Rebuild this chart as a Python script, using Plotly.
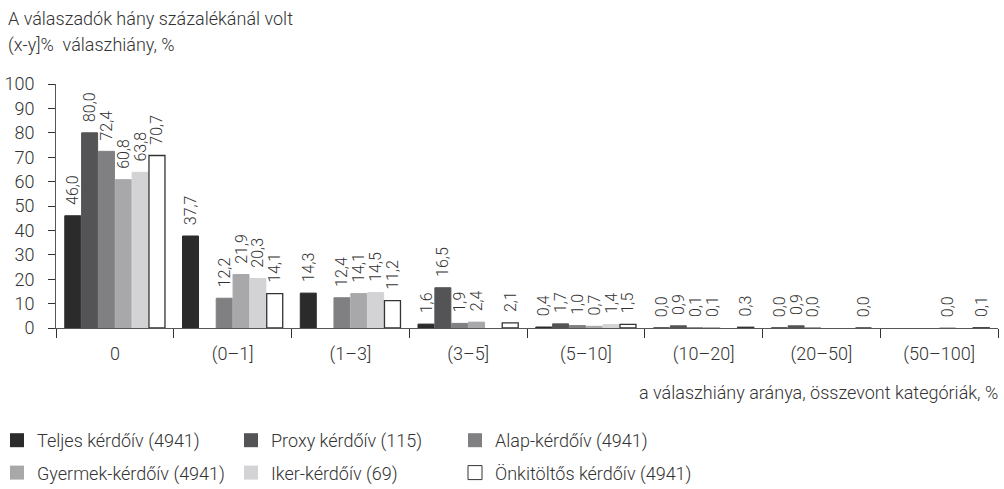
import plotly.graph_objects as go

categories = ["0", "(0–1]", "(1–3]", "(3–5]", "(5–10]", "(10–20]", "(20–50]", "(50–100]"]

series_names = [
    "Teljes kérdőív (4941)",
    "Proxy kérdőív (115)",
    "Alap-kérdőív (4941)",
    "Gyermek-kérdőív (4941)",
    "Iker-kérdőív (69)",
    "Önkitöltős kérdőív (4941)",
]

teljes = [46.0, 37.7, 14.3, 1.6, 0.4, 0.0, 0.0, None]
proxy = [80.0, None, None, 16.5, 1.7, 0.9, 0.9, None]
alap = [72.4, 12.2, 12.4, 1.9, 1.0, 0.1, 0.0, None]
gyermek = [60.8, 21.9, 14.1, 2.4, 0.7, 0.1, None, 0.0]
iker = [63.8, 20.3, 14.5, None, 1.4, None, None, None]
onkitoltos = [70.7, 14.1, 11.2, 2.1, 1.5, 0.3, 0.0, 0.1]

y_ticks = [0, 10, 20, 30, 40, 50, 60, 70, 80, 90, 100]

series_values = [teljes, proxy, alap, gyermek, iker, onkitoltos]
fills = ["#2b2b2b", "#545456", "#808083", "#a8a8ab", "#d3d3d5", "#ffffff"]
edges = ["#2b2b2b", "#545456", "#808083", "#a8a8ab", "#d3d3d5", "#333333"]
edge_w = [1, 1, 1, 1, 1, 1.3]
legend_ids = ["legend", "legend2", "legend3", "legend", "legend2", "legend3"]

FONT = "Roboto, sans-serif"
TXT = "#333333"
WT = 300

fig = go.Figure()
for i, (name, vals) in enumerate(zip(series_names, series_values)):
    fig.add_trace(go.Bar(
        x=categories,
        y=vals,
        name=name,
        showlegend=False,
        marker=dict(color=fills[i], line=dict(color=edges[i], width=edge_w[i])),
        texttemplate="\u00a0\u00a0%{y:.1f}",
        textposition="outside",
        textangle=-90,
        textfont=dict(family=FONT, size=16, color=TXT, weight=WT),
        constraintext="none",
        cliponaxis=False,
        hoverinfo="skip",
    ))

# legend-only entries (larger square swatches)
for i, name in enumerate(series_names):
    fig.add_trace(go.Scatter(
        x=[None], y=[None],
        mode="markers",
        name=name,
        legend=legend_ids[i],
        legendgroup=name,
        marker=dict(symbol="square", size=14, color=fills[i],
                    line=dict(color=edges[i], width=1 if i == 5 else 0)),
        hoverinfo="skip",
    ))

W, H = 1004, 489
ml, mr, mt, mb = 56, 6, 84, 161
pw = W - ml - mr
ph = H - mt - mb

def px_x(X):
    return (X - ml) / pw

def px_y(Y):
    return (H - mb - Y) / ph

leg_common = dict(
    orientation="v",
    xanchor="left",
    yanchor="top",
    font=dict(family=FONT, size=18, color=TXT, weight=WT),
    bgcolor="rgba(0,0,0,0)",
    tracegroupgap=6,
    itemsizing="trace",
    itemclick=False,
    itemdoubleclick=False,
)

fig.update_layout(
    width=W,
    height=H,
    margin=dict(l=ml, r=mr, t=mt, b=mb, autoexpand=False),
    paper_bgcolor="white",
    plot_bgcolor="white",
    separators=", ",
    barmode="group",
    bargap=0.142,
    bargroupgap=0.05,
    font=dict(family=FONT, size=18, color=TXT, weight=WT),
    showlegend=True,
    legend=dict(x=px_x(-3), y=px_y(422), **leg_common),
    legend2=dict(x=px_x(231), y=px_y(422), **leg_common),
    legend3=dict(x=px_x(455), y=px_y(422), **leg_common),
    xaxis=dict(
        type="category",
        tickson="boundaries",
        ticks="outside",
        ticklen=9,
        tickcolor="#333333",
        tickwidth=1,
        showline=True,
        linecolor="#555555",
        linewidth=1,
        showgrid=False,
        zeroline=False,
        tickfont=dict(family=FONT, size=18, color=TXT, weight=WT),
        ticklabelstandoff=9,
    ),
    yaxis=dict(
        range=[0, 100],
        tickvals=y_ticks,
        ticks="outside",
        ticklen=7,
        tickcolor="#333333",
        showline=True,
        linecolor="#555555",
        linewidth=1,
        showgrid=False,
        zeroline=False,
        tickfont=dict(family=FONT, size=18, color=TXT, weight=WT),
        ticklabelstandoff=10,
    ),
    annotations=[
        dict(
            text="A válaszadók hány százalékánál volt",
            xref="paper", yref="paper",
            x=px_x(6), y=px_y(18),
            xanchor="left", yanchor="middle",
            showarrow=False,
            font=dict(family=FONT, size=18, color=TXT, weight=WT),
        ),
        dict(
            text="(x-y]%  válaszhiány, %",
            xref="paper", yref="paper",
            x=px_x(6), y=px_y(45),
            xanchor="left", yanchor="middle",
            showarrow=False,
            font=dict(family=FONT, size=18, color=TXT, weight=WT),
        ),
        dict(
            text="a válaszhiány aránya, összevont kategóriák, %",
            xref="paper", yref="paper",
            x=px_x(1000), y=px_y(392),
            xanchor="right", yanchor="middle",
            showarrow=False,
            font=dict(family=FONT, size=18, color=TXT, weight=WT),
        ),
    ],
)

fig.write_html(
    "out.html",
    config={"displayModeBar": False},
    post_script="document.body.style.margin='0';document.body.style.overflow='hidden';",
)
